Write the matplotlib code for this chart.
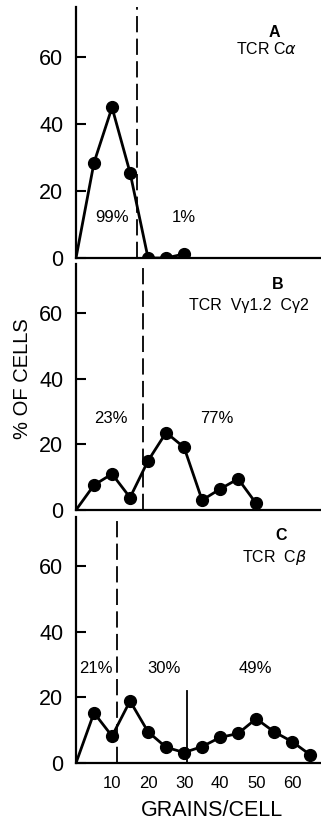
import matplotlib

matplotlib.use("Agg")
import matplotlib.pyplot as plt

plt.rcParams["font.family"] = ["Liberation Sans", "DejaVu Sans"]

# panel A: TCR C-alpha
a_x = [0, 5, 10, 15, 20, 25, 30]
a_y = [0, 28.5, 45, 25.5, 0, 0, 1.2]
a_cut = 17
a_pct = ["99%", "1%"]
a_pct_x = [10, 30]

# panel B: TCR Vgamma1.2 Cgamma2
b_x = [0, 5, 10, 15, 20, 25, 30, 35, 40, 45, 50]
b_y = [0, 7.6, 11, 3.8, 15, 23.6, 19.1, 3, 6.4, 9.5, 2]
b_cut = 18.5
b_pct = ["23%", "77%"]
b_pct_x = [9.7, 39]

# panel C: TCR C-beta
c_x = [0, 5, 10, 15, 20, 25, 30, 35, 40, 45, 50, 55, 60, 65]
c_y = [0, 15.3, 8.2, 18.9, 9.5, 4.8, 3.2, 5, 7.8, 9, 13.5, 9.5, 6.5, 2.5]
c_cut = 11.4
c_cut2 = 30.8
c_pct = ["21%", "30%", "49%"]
c_pct_x = [5.6, 24.5, 49.7]

y_ticks = [0, 20, 40, 60]
x_ticks = [10, 20, 30, 40, 50, 60]

fig = plt.figure(figsize=(3.21, 8.24), dpi=100)
L, W = 76 / 321, 1 - 76 / 321
axA = fig.add_axes([L, 566 / 824, W, 251 / 824])
axB = fig.add_axes([L, 314 / 824, W, 246 / 824])
axC = fig.add_axes([L, 61 / 824, W, 246 / 824])

# (axes, x, y, cut, labels, label x, label y, letter, letter xy, name, name xy)
panels = [
    (axA, a_x, a_y, a_cut, a_pct, a_pct_x, 12, "A", (55, 67.5),
     "TCR C$\\alpha$", (53, 62.4)),
    (axB, b_x, b_y, b_cut, b_pct, b_pct_x, 28, "B", (56, 68.6),
     "TCR  Vγ1.2  Cγ2", (48, 62.2)),
    (axC, c_x, c_y, c_cut, c_pct, c_pct_x, 28.7, "C", (57, 69.3),
     "TCR  C$\\beta$", (55, 62.6)),
]
for ax, xs, ys, cut, pct, pct_x, pct_y, letter, lxy, name, nxy in panels:
    ax.plot(xs, ys, "-", color="black", lw=2.0, zorder=3)
    ax.plot(xs[1:], ys[1:], "o", color="black", ms=8.5, zorder=4)
    ax.axvline(cut, color="black", lw=1.3, dashes=(9, 3.5))
    for t, px in zip(pct, pct_x):
        ax.text(px, pct_y, t, ha="center", va="center", fontsize=12)
    ax.text(*lxy, letter, ha="center", va="center", fontsize=11.5,
            fontweight="bold")
    ax.text(*nxy, name, ha="center", va="center", fontsize=11.5)
    ax.set_xlim(0, 68)
    ax.set_ylim(0, 75)
    ax.spines["top"].set_visible(False)
    ax.spines["right"].set_visible(False)
    ax.spines["left"].set_linewidth(1.6)
    ax.spines["bottom"].set_linewidth(1.6)
    ax.set_yticks(y_ticks)
    ax.tick_params(axis="y", direction="in", length=7.5, width=1.5, pad=9,
                   labelsize=15.5)
    ax.set_xticks(x_ticks)
    ax.tick_params(axis="x", length=0, pad=9, labelsize=12)

axA.tick_params(axis="x", labelbottom=False)
axB.tick_params(axis="x", labelbottom=False)
axC.plot([c_cut2, c_cut2], [0, 22], color="black", lw=1.3)

fig.text(23 / 321, 1 - 379 / 824, "% OF CELLS", rotation=90, ha="center",
         va="center", fontsize=14.5)
fig.text(212 / 321, 1 - 811 / 824, "GRAINS/CELL", ha="center", va="center",
         fontsize=15.5)

fig.savefig("out.png", dpi=100)
